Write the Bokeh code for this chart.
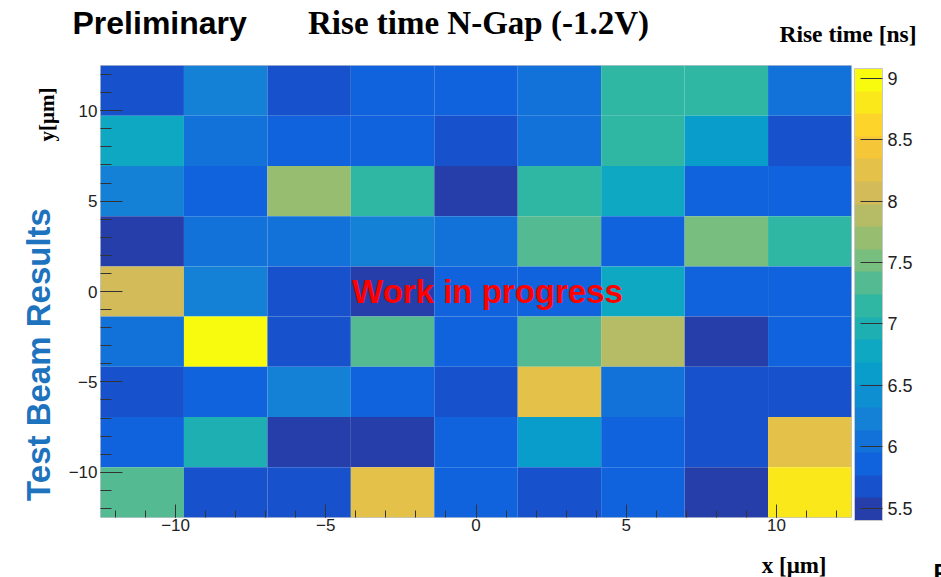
import numpy as np
from bokeh.plotting import figure
from bokeh.layouts import column
from bokeh.models import (LinearColorMapper, ColorBar, Label, SingleIntervalTicker,
                          FixedTicker, CustomJSTickFormatter, ColumnDataSource, Range1d)
from bokeh.embed import file_html
from bokeh.resources import INLINE

# ---------------- data ----------------
x_limits = [-12.5, 12.5]
y_limits = [-12.5, 12.5]
n_bins_x = 9
n_bins_y = 9

# Rise time [ns], one list per y-bin, TOP row first, left to right in x
rise_time_rows = [
    [5.68, 6.23, 5.70, 5.86, 5.88, 6.05, 7.15, 7.16, 6.06],
    [6.78, 6.05, 5.87, 5.85, 5.69, 6.04, 7.14, 6.60, 5.67],
    [6.24, 5.86, 7.70, 7.15, 5.45, 7.16, 6.79, 5.86, 5.87],
    [5.47, 6.06, 6.05, 6.23, 6.04, 7.33, 5.86, 7.51, 7.15],
    [8.07, 6.24, 5.68, 5.48, 5.86, 5.87, 6.78, 5.86, 5.85],
    [6.05, 9.08, 5.69, 7.33, 5.86, 7.34, 7.88, 5.50, 5.86],
    [5.68, 5.86, 6.23, 5.87, 5.68, 8.25, 6.05, 5.69, 5.67],
    [5.86, 6.96, 5.44, 5.42, 5.86, 6.60, 5.87, 5.68, 8.25],
    [7.33, 5.68, 5.69, 8.26, 5.86, 5.68, 5.85, 5.40, 8.80],
]
z_min, z_max = 5.40, 9.08
n_contours = 20
axis_ticks_interval = 5
cbar_ticks = [5.5, 6, 6.5, 7, 7.5, 8, 8.5, 9]

title_text = "Rise time N-Gap (-1.2V)"
prelim_text = "Preliminary"
z_title = "Rise time [ns]"
x_title = "x [\u03bcm]"
y_title = "y[\u03bcm]"
side_text = "Test Beam Results"
wip_text = "Work in progress"
corner_text = "P"

# ---------------- palette (ROOT kBird) ----------------
stops = np.array([0.0, 0.125, 0.25, 0.375, 0.5, 0.625, 0.75, 0.875, 1.0])
red = np.array([0.2082, 0.0592, 0.0780, 0.0232, 0.1802, 0.5301, 0.8186, 0.9956, 0.9764])
green = np.array([0.1664, 0.3599, 0.5041, 0.6419, 0.7178, 0.7492, 0.7328, 0.7862, 0.9832])
blue = np.array([0.5293, 0.8684, 0.8385, 0.7914, 0.6425, 0.4662, 0.3499, 0.1968, 0.0539])


def bird(f):
    r = np.interp(f, stops, red)
    g = np.interp(f, stops, green)
    b = np.interp(f, stops, blue)
    return "#%02x%02x%02x" % (int(round(r * 255)), int(round(g * 255)), int(round(b * 255)))


palette = [bird(min(1.0, (i + 0.99) / n_contours * 255 / 254)) for i in range(n_contours)]
mapper = LinearColorMapper(palette=palette, low=z_min, high=z_max)

# ---------------- cells ----------------
x_edges = np.linspace(x_limits[0], x_limits[1], n_bins_x + 1)
y_edges = np.linspace(y_limits[0], y_limits[1], n_bins_y + 1)
xc = 0.5 * (x_edges[:-1] + x_edges[1:])
yc = 0.5 * (y_edges[:-1] + y_edges[1:])
bw = x_edges[1] - x_edges[0]
bh = y_edges[1] - y_edges[0]

xs, ys, zs = [], [], []
for r, row in enumerate(rise_time_rows):
    for c, z in enumerate(row):
        xs.append(xc[c])
        ys.append(yc[n_bins_y - 1 - r])
        zs.append(z)
src = ColumnDataSource(dict(x=xs, y=ys, z=zs))

W, H_TOP, H_MAIN = 941, 65, 512

# ---------------- top strip (titles) ----------------
top = figure(width=W, height=H_TOP, x_range=Range1d(0, W), y_range=Range1d(H_TOP, 0),
             x_axis_type=None, y_axis_type=None, output_backend="svg", toolbar_location=None,
             min_border=0, outline_line_color=None,
             background_fill_color="white", border_fill_color="white")


def tlab(text, cx, cy, size, font, align):
    top.add_layout(Label(x=cx, y=cy, text=text, text_font=font, text_font_size=size,
                         text_font_style="bold", text_color="black", text_align=align,
                         text_baseline="middle"))


tlab(prelim_text, 72, 22, "32px", "Liberation Sans", "left")
tlab(title_text, 478, 22, "33px", "Liberation Serif", "center")
tlab(z_title, 916, 33, "23.5px", "Liberation Serif", "right")

# ---------------- main figure ----------------
FL, FB, FR = 100, 60, 90
p = figure(frame_width=751, frame_height=452,
           x_range=Range1d(*x_limits), y_range=Range1d(*y_limits),
           output_backend="svg", toolbar_location=None,
           min_border_left=FL, min_border_top=0, min_border_bottom=FB, min_border_right=FR,
           background_fill_color="white", border_fill_color="white")
p.grid.visible = False
p.outline_line_color = "#c0c4cc"
p.outline_line_width = 1

for fig in (top, p):
    if hasattr(fig, "frame_align"):
        fig.frame_align = False

p.rect(x="x", y="y", width=bw, height=bh, source=src,
       fill_color={"field": "z", "transform": mapper}, line_color=None)

fmt = CustomJSTickFormatter(code="return tick < 0 ? '\\u2212' + Math.abs(tick) : tick.toString();")
for ax, tin, tmin, sto in ((p.xaxis[0], 13, 7, 1), (p.yaxis[0], 22, 11, 3)):
    ax.ticker = SingleIntervalTicker(interval=axis_ticks_interval, num_minor_ticks=5)
    ax.formatter = fmt
    ax.axis_line_color = None
    ax.major_tick_in = tin
    ax.major_tick_out = 0
    ax.minor_tick_in = tmin
    ax.minor_tick_out = 0
    ax.major_tick_line_color = "#333333"
    ax.minor_tick_line_color = "#333333"
    ax.major_label_text_font = "Liberation Sans"
    ax.major_label_text_font_size = "17px"
    ax.major_label_text_color = "#222222"
    ax.major_label_standoff = sto

cbar = ColorBar(color_mapper=mapper, ticker=FixedTicker(ticks=cbar_ticks),
                formatter=CustomJSTickFormatter(code="return tick.toString();"),
                width=28, height=452, padding=3, margin=0,
                major_tick_in=22, major_tick_out=0, major_tick_line_color="#333333",
                minor_tick_line_color=None,
                major_label_text_font="Liberation Sans", major_label_text_font_size="18px",
                major_label_text_color="#222222", label_standoff=5,
                bar_line_color="#c8c8c8", background_fill_alpha=0, border_line_color=None)
p.add_layout(cbar, "right")


# Texts outside the frame live in the side panels (canvas coordinates of this figure).
def lab(text, cx, cy, size, font, side, color="black", align="left", angle=0.0):
    p.add_layout(Label(x=cx, y=cy - H_TOP, x_units="canvas", y_units="canvas",
                       text=text, text_font=font, text_font_size=size, text_font_style="bold",
                       text_color=color, text_align=align, text_baseline="middle", angle=angle),
                 side)


lab(side_text, 38, 354, "33px", "Liberation Sans", "left", color="#1e73be",
    align="center", angle=np.pi / 2)
lab(y_title, 46, 114, "21px", "Liberation Serif", "left", align="center", angle=np.pi / 2)
lab(x_title, 826, 565, "23px", "Liberation Serif", "below", align="right")
lab(corner_text, 933, 572, "24px", "Liberation Sans", "right")
lab(wip_text, 487, 291, "33px", "Liberation Sans", "center", color="#ff0000", align="center")

open("out.html", "w").write(file_html(column(top, p, spacing=0), INLINE))
